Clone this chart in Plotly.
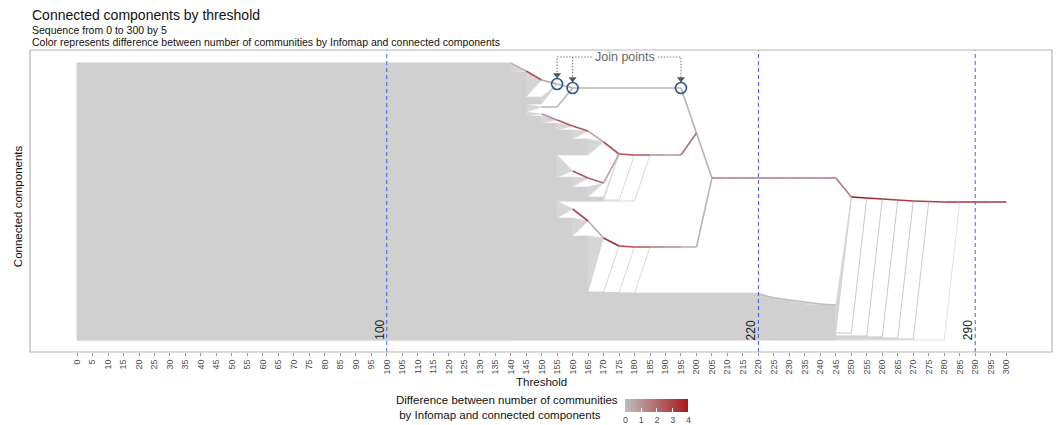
import plotly.graph_objects as go

# ---------------------------------------------------------------- data
tick_thresholds = list(range(0, 301, 5))
marked_thresholds = [100, 220, 290]

# components that stay isolated up to blk_end (no merge drawn here)
blk_end = [140, 245]
blk_lo = [1, 1]
blk_hi = [278, 11]

# groups of leaf components: unmerged until grp_end over positions
# grp_lo..grp_hi, then merged into node (grp_join_t, grp_join_y)
grp_end = [140, 145, 150, 145,
           145, 150, 155, 160, 165, 155, 160, 165, 170,
           155, 160, 160, 165, 165, 165,
           220, 225, 230, 235, 245]
grp_lo = [269, 244, 237, 229,
          225, 218, 211, 202, 186, 164, 154, 144, 140,
          123, 114, 105, 95, 71, 49,
          44, 41, 38, 36, 11]
grp_hi = [278, 269, 244, 237,
          229, 225, 218, 211, 202, 186, 164, 154, 144,
          140, 123, 114, 105, 95, 71,
          48, 44, 41, 38, 36]
grp_join_t = [145, 150, 155, 150,
              150, 155, 160, 165, 170, 160, 165, 170, 175,
              160, 165, 165, 170, 170, 170,
              225, 230, 235, 240, 250]
grp_join_y = [270, 261, 257, 234,
              227, 221, 215, 210, 199, 170, 163, 158, 187,
              132, 120, 120, 103, 103, 103,
              43, 41, 39, 37, 144]

# single long-lived components
leaf_y = [141, 140, 49, 48.5, 48, 11, 8, 5, 4, 3, 2, 1]
leaf_end = [175, 180, 170, 175, 180, 245, 250, 255, 260, 265, 270, 280]
leaf_join_t = [180, 185, 175, 180, 185, 250, 255, 260, 265, 270, 275, 285]
leaf_join_y = [186, 186, 95, 94, 94, 144, 143, 142, 141, 140, 139.5, 139]
leaf_alpha = [0.55, 0.55, 0.6, 0.55, 0.5, 0.8, 0.8, 0.8, 0.8, 0.8, 0.75, 0.45]

# merged components: threshold, position and per-step difference
top_t = [140, 145, 150, 155, 160, 165, 170, 175, 180, 185, 190, 195, 200, 205]
top_y = [278, 270, 261, 257, 253, 253, 253, 253, 253, 253, 253, 253, 208, 163]
top_diff = [0.3, 2.6, 0.6, 0.2, 0.2, 0.2, 0.2, 0.2, 0.2, 0.2, 0.2, 0.3, 0.4]

topsub_t = [150, 155, 160]
topsub_y = [234, 234, 253]
topsub_diff = [0.2, 0.2]

mu_t = [150, 155, 160, 165, 170, 175, 180, 185, 190, 195, 200]
mu_y = [227, 221, 215, 210, 199, 187, 186, 186, 186, 186, 208]
mu_diff = [1.2, 2.5, 2.5, 0.4, 2.6, 2.8, 2.2, 1.0, 0.8, 2.0]

musub_t = [160, 165, 170, 175]
musub_y = [170, 163, 158, 187]
musub_diff = [2.6, 2.2, 0.6]

ml_t = [160, 165, 170, 175, 180, 185, 190, 195, 200, 205]
ml_y = [132, 120, 103, 95, 94, 94, 94, 94, 94, 163]
ml_diff = [2.8, 0.5, 3.5, 2.8, 2.2, 1.5, 1.0, 0.3, 0.3]

bsub_t = [220, 225, 230, 235, 240, 245]
bsub_y = [47, 43, 41, 39, 37, 36]
bsub_diff = [0, 0, 0, 0, 0]

main_t = [205, 210, 215, 220, 225, 230, 235, 240, 245, 250,
          255, 260, 265, 270, 275, 280, 285, 290, 295, 300]
main_y = [163, 163, 163, 163, 163, 163, 163, 163, 163, 144,
          143, 142, 141, 140, 139.5, 139, 139, 139, 139, 139]
main_diff = [1.5, 1.5, 1.5, 1.5, 1.5, 1.5, 1.5, 1.5, 1.7, 4.0,
             3.6, 3.3, 3.1, 3.0, 3.0, 3.0, 3.0, 3.0, 3.0]

join_t = [155, 160, 195]
join_y = [257, 253, 253]
join_label_t = 177
join_label_y = 284

# ---------------------------------------------------------------- style
FONT = "Liberation Sans, Arial, Helvetica, sans-serif"
GREY = (190, 190, 190)
RED = (168, 24, 30)
BLOCK = "#d0d0d0"
FAN = "#d6d6d6"


def diff_colour(d):
    f = max(0.0, min(1.0, d / 4.0))
    r, g, b = (round(GREY[i] + (RED[i] - GREY[i]) * f) for i in range(3))
    return f"rgb({r},{g},{b})"


fig = go.Figure()


def add_polys(xs, ys, colour):
    fig.add_trace(go.Scatter(x=xs, y=ys, mode="lines", fill="toself",
                             fillcolor=colour,
                             line=dict(width=0.6, color=colour),
                             hoverinfo="skip", showlegend=False))


# long-lived single leaves (drawn first so the leaf block covers their start)
for y, e, jt, jy, a in zip(leaf_y, leaf_end, leaf_join_t, leaf_join_y, leaf_alpha):
    fig.add_trace(go.Scatter(x=[0, e, jt], y=[y, y, jy], mode="lines",
                             line=dict(width=1, color=f"rgba(185,185,185,{a})"),
                             hoverinfo="skip", showlegend=False))

# unmerged leaf rows (rectangles from threshold 0)
rx, ry = [], []
for e, lo, hi in zip(blk_end + grp_end, blk_lo + grp_lo, blk_hi + grp_hi):
    rx += [0, e, e, 0, 0, None]
    ry += [lo, lo, hi, hi, lo, None]
add_polys(rx, ry, BLOCK)

# bundles of leaves converging on their parent node
fx, fy = [], []
for e, lo, hi, jt, jy in zip(grp_end, grp_lo, grp_hi, grp_join_t, grp_join_y):
    fx += [e, jt, e, e, None]
    fy += [lo, jy, hi, lo, None]
add_polys(fx, fy, FAN)

# merged components, coloured by difference
branches = [
    (bsub_t, bsub_y, bsub_diff),
    (top_t, top_y, top_diff),
    (topsub_t, topsub_y, topsub_diff),
    (mu_t, mu_y, mu_diff),
    (musub_t, musub_y, musub_diff),
    (ml_t, ml_y, ml_diff),
    (main_t, main_y, main_diff),
]
for ts, ys, ds in branches:
    for i, d in enumerate(ds):
        fig.add_trace(go.Scatter(x=ts[i:i + 2], y=ys[i:i + 2], mode="lines",
                                 line=dict(width=1.6, color=diff_colour(d)),
                                 hoverinfo="skip", showlegend=False))

# join points with their dotted call-out
tip_y = [y + 9 for y in join_y]
half = 10.5
callout = dict(width=1.1, color="#808080", dash="1.5px,1.5px")
fig.add_trace(go.Scatter(x=[join_t[0], join_t[0], join_label_t - half],
                         y=[tip_y[0], join_label_y, join_label_y],
                         mode="lines", line=callout, hoverinfo="skip", showlegend=False))
fig.add_trace(go.Scatter(x=[join_t[1], join_t[1]], y=[join_label_y, tip_y[1]],
                         mode="lines", line=callout, hoverinfo="skip", showlegend=False))
fig.add_trace(go.Scatter(x=[join_label_t + half, join_t[2], join_t[2]],
                         y=[join_label_y, join_label_y, tip_y[2]],
                         mode="lines", line=callout, hoverinfo="skip", showlegend=False))
fig.add_trace(go.Scatter(x=join_t, y=tip_y, mode="markers",
                         marker=dict(symbol="triangle-down", size=7, color="#555555"),
                         hoverinfo="skip", showlegend=False))
fig.add_trace(go.Scatter(x=join_t, y=join_y, mode="markers",
                         marker=dict(symbol="circle-open", size=11, color="#2e5a88",
                                     line=dict(width=1.6)),
                         hoverinfo="skip", showlegend=False))
fig.add_annotation(x=join_label_t, y=join_label_y, text="Join points", showarrow=False,
                   font=dict(size=12.5, color="#666666", family=FONT),
                   xanchor="center", yanchor="middle")

# colour scale guide
fig.add_trace(go.Scatter(
    x=[None], y=[None], mode="markers", hoverinfo="skip", showlegend=False,
    marker=dict(color=[0], cmin=0, cmax=4, showscale=True,
                colorscale=[[0, "rgb(190,190,190)"], [1, "rgb(168,24,30)"]],
                colorbar=dict(orientation="h", thickness=13, thicknessmode="pixels",
                              len=63, lenmode="pixels",
                              x=0.6135, xanchor="center", y=-0.1556, yanchor="top",
                              xpad=0, ypad=0, outlinewidth=0,
                              tickvals=[0, 1, 2, 3, 4], ticks="inside", ticklen=4,
                              tickcolor="white",
                              tickfont=dict(size=9, color="#4d4d4d", family=FONT))),
))

# marked thresholds
for t in marked_thresholds:
    fig.add_shape(type="line", x0=t, x1=t, xref="x", y0=0, y1=1, yref="paper",
                  line=dict(color="#3d5bff", width=1, dash="4px,3px"), layer="above")
    fig.add_annotation(x=t, y=11, text=str(t), textangle=-90, showarrow=False,
                       xshift=-7, xanchor="center", yanchor="middle",
                       font=dict(size=12, color="#1a1a1a", family=FONT))

# panel border
fig.add_shape(type="rect", xref="paper", yref="paper", x0=0, x1=1, y0=0, y1=1,
              line=dict(color="#b5b5b5", width=1.2), layer="above")

# titles
fig.add_annotation(xref="paper", yref="paper", x=0, y=1.116, xanchor="left",
                   yanchor="middle", showarrow=False,
                   text="Connected components by threshold",
                   font=dict(size=14, color="#111111", family=FONT))
fig.add_annotation(xref="paper", yref="paper", x=0, y=1.0662, xanchor="left",
                   yanchor="middle", showarrow=False,
                   text="Sequence from 0 to 300 by 5",
                   font=dict(size=10.5, color="#111111", family=FONT))
fig.add_annotation(xref="paper", yref="paper", x=0, y=1.0265, xanchor="left",
                   yanchor="middle", showarrow=False,
                   text="Color represents difference between number of communities "
                        "by Infomap and connected components",
                   font=dict(size=10.5, color="#111111", family=FONT))
fig.add_annotation(xref="paper", yref="paper", x=-0.0117, y=0.483, textangle=-90,
                   xanchor="center", yanchor="middle", showarrow=False,
                   text="Connected components",
                   font=dict(size=11.5, color="#111111", family=FONT))
fig.add_annotation(xref="paper", yref="paper", x=0.5, y=-0.0993,
                   xanchor="center", yanchor="middle", showarrow=False,
                   text="Threshold",
                   font=dict(size=11.5, color="#111111", family=FONT))
fig.add_annotation(xref="paper", yref="paper", x=0.3562, y=-0.1854,
                   xanchor="left", yanchor="middle", align="left", showarrow=False,
                   text="Difference between number of communities<br> by Infomap and connected components",
                   font=dict(size=11.5, color="#111111", family=FONT))

fig.update_layout(
    template="none",
    width=1058, height=425,
    margin=dict(l=30, r=6, t=50, b=73, autoexpand=False),
    paper_bgcolor="white", plot_bgcolor="white",
    font=dict(family=FONT, color="#1a1a1a"),
    showlegend=False, hovermode=False,
    xaxis=dict(range=[-15.2, 314.8], tickvals=tick_thresholds,
               ticktext=[str(v) for v in tick_thresholds], tickangle=-90,
               ticks="outside", ticklen=3, tickcolor="#999999", tickwidth=1,
               tickfont=dict(size=9, color="#4d4d4d", family=FONT),
               showgrid=False, zeroline=False, showline=False, automargin=False),
    yaxis=dict(range=[-11, 291], showticklabels=False, ticks="",
               showgrid=False, zeroline=False, showline=False, automargin=False),
)

fig.write_html("out.html")
